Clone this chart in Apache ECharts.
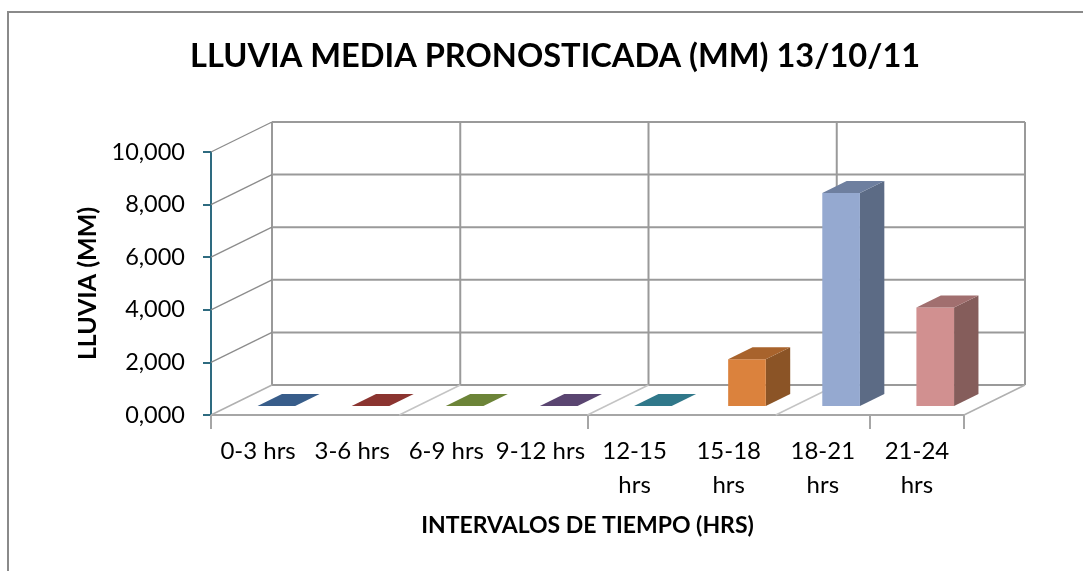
<!DOCTYPE html>
<html>
<head>
<meta charset="utf-8">
<style>
  html, body { margin: 0; padding: 0; background: #fff; }
  #chart { width: 1083px; height: 571px; }
</style>
<script src="https://cdn.jsdelivr.net/npm/echarts@6/dist/echarts.min.js"></script>
</head>
<body>
<div id="chart"></div>
<script>
// Rain forecast per 3-hour interval
const categories = ['0-3 hrs', '3-6 hrs', '6-9 hrs', '9-12 hrs', '12-15\nhrs', '15-18\nhrs', '18-21\nhrs', '21-24\nhrs'];
const lluvia = [0, 0, 0, 0, 0, 1.78, 8.1, 3.75];
const yTicks = [0, 2, 4, 6, 8, 10];

// Face shades per category (front, side, top)
const frontColors = ['#4F81BD', '#C0504D', '#9BBB59', '#8064A2', '#4BACC6', '#DB823D', '#95A9D0', '#D19090'];
const sideColors  = ['#2C4D75', '#772C2A', '#5F7530', '#4D3B62', '#276A7C', '#8B5426', '#5C6B85', '#855D5B'];
const topColors   = ['#385D8A', '#8B3430', '#6C8438', '#5A4571', '#30788A', '#A8632C', '#6E7F9F', '#A16F6F'];

// Oblique depth of the floor / walls, in pixels
const DEPTH = { dx: 61, dy: -30 };
const BAR_FRONT = 0.3, BAR_BACK = 0.7, BAR_WIDTH = 0.4;
const FONT = 'Lato, "Open Sans", sans-serif';

const chart = echarts.init(document.getElementById('chart'));

function fmt(v) { return v.toFixed(3).replace('.', ','); }

function renderWalls(params, api) {
  const cs = params.coordSys;
  const v = api.value(1);
  const y = api.coord([0, v])[1];
  const left = cs.x, right = cs.x + cs.width;
  const children = [];
  const grid = { stroke: '#9A9A9A', lineWidth: 2 };
  const diag = { stroke: '#8C8C8C', lineWidth: 1.3 };
  const floor = { stroke: '#C4C4C4', lineWidth: 1.5 };
  // back wall horizontal line
  children.push({ type: 'line', shape: { x1: left + DEPTH.dx, y1: y + DEPTH.dy, x2: right + DEPTH.dx, y2: y + DEPTH.dy }, style: grid });
  // left wall diagonal
  if (v > 0) {
    children.push({ type: 'line', shape: { x1: left, y1: y, x2: left + DEPTH.dx, y2: y + DEPTH.dy }, style: diag });
  }
  if (v === 0) {
    const yTop = api.coord([0, yTicks[yTicks.length - 1]])[1];
    const n = categories.length;
    for (let k = 0; k <= n; k += 2) {
      const x = cs.x + k * cs.width / n;
      children.push({ type: 'line', shape: { x1: x + DEPTH.dx, y1: y + DEPTH.dy, x2: x + DEPTH.dx, y2: yTop + DEPTH.dy }, style: grid });
      children.push({ type: 'line', shape: { x1: x, y1: y, x2: x + DEPTH.dx, y2: y + DEPTH.dy }, style: (k === 0 || k === n) ? { stroke: '#B0B0B0', lineWidth: 1.5 } : floor });
    }
  }
  return { type: 'group', children };
}

function renderBar(params, api) {
  const i = api.value(0);
  const top = api.coord([i, api.value(1)]);
  const base = api.coord([i, 0]);
  const band = api.size([1, 0])[0];
  const w = band * BAR_WIDTH;
  const fx = DEPTH.dx * BAR_FRONT, fy = DEPTH.dy * BAR_FRONT;
  const ddx = DEPTH.dx * (BAR_BACK - BAR_FRONT), ddy = DEPTH.dy * (BAR_BACK - BAR_FRONT);
  const x0 = top[0] - w / 2 + fx, x1 = x0 + w;
  const yT = top[1] + fy, yB = base[1] + fy;
  const children = [];
  if (yB - yT > 0.5) {
    children.push({ type: 'polygon', shape: { points: [[x1, yB], [x1, yT], [x1 + ddx, yT + ddy], [x1 + ddx, yB + ddy]] }, style: { fill: sideColors[i] } });
    children.push({ type: 'rect', shape: { x: x0, y: yT, width: w, height: yB - yT }, style: { fill: frontColors[i] } });
  }
  children.push({ type: 'polygon', shape: { points: [[x0, yT], [x1, yT], [x1 + ddx, yT + ddy], [x0 + ddx, yT + ddy]] }, style: { fill: topColors[i] } });
  return { type: 'group', children };
}

chart.setOption({
  animation: false,
  backgroundColor: '#ffffff',
  title: {
    text: 'LLUVIA MEDIA PRONOSTICADA (MM) 13/10/11',
    left: 185, top: 35,
    textStyle: { fontFamily: FONT, fontWeight: 'bold', fontSize: 32.6, color: '#000' }
  },
  graphic: [{
    type: 'rect', silent: true, z: -10,
    shape: { x: 8, y: 12, width: 1100, height: 600 },
    style: { fill: 'none', stroke: '#8A8A8A', lineWidth: 2 }
  }],
  grid: { left: 211, right: 119, top: 152, bottom: 156 },
  xAxis: {
    type: 'category',
    data: categories,
    name: 'INTERVALOS DE TIEMPO (HRS)',
    nameLocation: 'middle',
    nameGap: 99,
    nameTextStyle: { fontFamily: FONT, fontWeight: 'bold', fontSize: 23, color: '#000' },
    axisLine: { lineStyle: { color: '#A6A6A6', width: 2 } },
    axisTick: { show: true, interval: 3, length: 14, lineStyle: { color: '#A6A6A6', width: 2 } },
    axisLabel: { interval: 0, margin: 19, fontFamily: FONT, fontSize: 24, lineHeight: 34, color: '#000' },
    splitLine: { show: false }
  },
  yAxis: {
    type: 'value',
    min: 0, max: 10, interval: 2,
    name: 'LLUVIA (MM)',
    nameLocation: 'middle',
    nameGap: 110,
    nameRotate: 90,
    nameTextStyle: { fontFamily: FONT, fontWeight: 'bold', fontSize: 25, color: '#000' },
    axisLine: { show: true, lineStyle: { color: '#2E6B80', width: 2 } },
    axisTick: { show: true, length: 8, lineStyle: { color: '#2E6B80', width: 2 } },
    axisLabel: { margin: 26, fontFamily: FONT, fontSize: 23.5, color: '#000', formatter: fmt },
    splitLine: { show: false }
  },
  series: [
    {
      type: 'custom', name: 'walls', z: 1, silent: true,
      renderItem: renderWalls,
      data: yTicks.map(v => [0, v]),
      clip: false
    },
    {
      type: 'custom', name: 'LLUVIA', z: 2,
      renderItem: renderBar,
      data: lluvia.map((v, i) => [i, v]),
      clip: false
    }
  ]
});
</script>
</body>
</html>
